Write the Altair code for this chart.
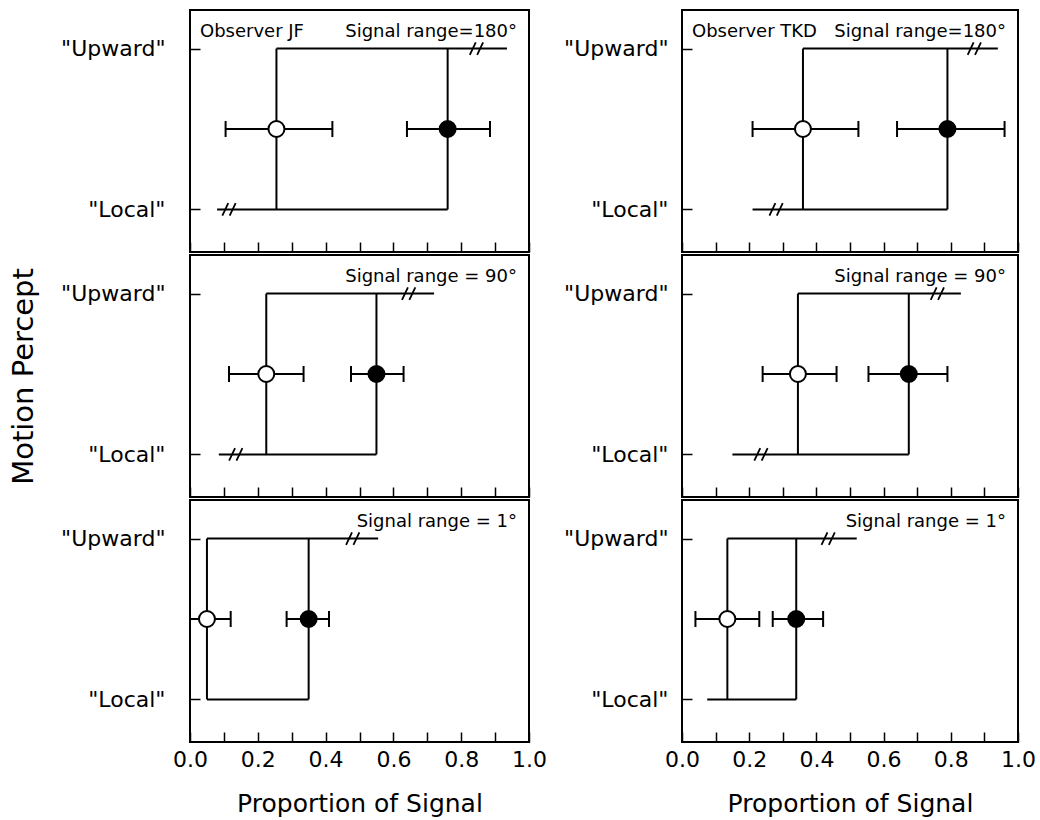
import altair as alt
import pandas as pd

FONT = "DejaVu Sans"

# ---- data (panel order: JF 180, JF 90, JF 1, TKD 180, TKD 90, TKD 1)
observer_labels = ["Observer  JF", "", "", "Observer  TKD", "", ""]
range_labels = ["Signal range=180°", "Signal range = 90°", "Signal range = 1°",
                "Signal range=180°", "Signal range = 90°", "Signal range = 1°"]
open_x = [0.255, 0.225, 0.05, 0.36, 0.345, 0.135]
open_lo = [0.105, 0.115, 0.0, 0.21, 0.24, 0.04]
open_hi = [0.42, 0.335, 0.12, 0.525, 0.46, 0.23]
filled_x = [0.76, 0.55, 0.35, 0.79, 0.675, 0.34]
filled_lo = [0.64, 0.475, 0.285, 0.64, 0.555, 0.27]
filled_hi = [0.885, 0.63, 0.41, 0.96, 0.79, 0.42]
local_start = [0.08, 0.085, 0.05, 0.21, 0.15, 0.075]
upward_end = [0.935, 0.72, 0.555, 0.94, 0.83, 0.52]
local_break = [0.115, 0.135, None, 0.28, 0.235, None]
upward_break = [0.845, 0.645, 0.48, 0.87, 0.76, 0.435]

y_levels = [0, 1]
y_tick_labels = ['"Local"', '"Upward"']
x_ticks = [0.0, 0.1, 0.2, 0.3, 0.4, 0.5, 0.6, 0.7, 0.8, 0.9, 1.0]
x_title = "Proportion of Signal"
y_title = "Motion Percept"

PANEL_H = 242
LEFT_W = 339
RIGHT_W = 336

label_expr = "datum.value == %d ? '%s' : '%s'" % (y_levels[1], y_tick_labels[1], y_tick_labels[0])
x_label_expr = "(round(datum.value * 10) % 2 == 0) ? format(datum.value, '.1f') : ''"
CIRCLE_Y = 0.5 * (y_levels[0] + y_levels[1])


def panel(i, width, label_pad, title_mode, show_xlabels):
    xaxis_kw = dict(values=x_ticks, tickSize=10, offset=-10, domain=False, grid=False,
                    tickColor="black", tickWidth=1.5, labels=show_xlabels,
                    labelExpr=x_label_expr, labelFlush=False, labelOverlap=False,
                    labelPadding=7, labelFontSize=22, labelFont=FONT, labelColor="black",
                    titleFontSize=25, titleFont=FONT, titleFontWeight="normal",
                    titleColor="black", titlePadding=21)
    xenc = alt.X("x:Q", scale=alt.Scale(domain=[0, 1], nice=False, zero=False),
                 axis=alt.Axis(**xaxis_kw),
                 title=(x_title if show_xlabels else None))
    yaxis_kw = dict(values=y_levels, tickSize=10, offset=-10, domain=False, grid=False,
                    tickColor="black", tickWidth=1.5, labelExpr=label_expr,
                    labelPadding=label_pad, labelFontSize=22, labelFont=FONT,
                    labelColor="black", titleFontSize=29, titleFont=FONT,
                    titleFontWeight="normal", titleColor="black", titlePadding=22)
    if title_mode == "hidden":
        yaxis_kw["titleOpacity"] = 0
    yenc = alt.Y("y:Q", scale=alt.Scale(domain=[-0.265, 1.24], nice=False, zero=False),
                 axis=alt.Axis(**yaxis_kw),
                 title=(y_title if title_mode in ("shown", "hidden") else None))

    seg = pd.DataFrame({
        "x": [local_start[i], open_x[i], open_x[i], filled_x[i], open_lo[i], filled_lo[i]],
        "x2": [filled_x[i], upward_end[i], open_x[i], filled_x[i], open_hi[i], filled_hi[i]],
        "y": [y_levels[0], y_levels[1], y_levels[0], y_levels[0], CIRCLE_Y, CIRCLE_Y],
        "y2": [y_levels[0], y_levels[1], y_levels[1], y_levels[1], CIRCLE_Y, CIRCLE_Y],
    })
    caps = pd.DataFrame({
        "x": [open_lo[i], open_hi[i], filled_lo[i], filled_hi[i]],
        "y": [CIRCLE_Y] * 4,
    })
    bx, by = [], []
    if local_break[i] is not None:
        bx.append(local_break[i]); by.append(y_levels[0])
    if upward_break[i] is not None:
        bx.append(upward_break[i]); by.append(y_levels[1])
    brk = pd.DataFrame({"x": bx, "y": by})
    pts = pd.DataFrame({
        "x": [open_x[i], filled_x[i]],
        "y": [CIRCLE_Y, CIRCLE_Y],
        "kind": ["open", "filled"],
    })

    rules = alt.Chart(seg).mark_rule(color="black", strokeWidth=2).encode(
        x=xenc, x2="x2:Q", y=yenc, y2="y2:Q")
    capm = alt.Chart(caps).mark_point(shape="M0,-1L0,1", size=256, filled=False,
                                      stroke="black", strokeWidth=2, opacity=1).encode(
        x=xenc, y=yenc)
    brkm = alt.Chart(brk).mark_point(shape="M-0.95,0.9L-0.1,-0.9M0.1,0.9L0.95,-0.9",
                                     size=196, filled=False, stroke="black",
                                     strokeWidth=1.8, opacity=1).encode(x=xenc, y=yenc)
    circ = alt.Chart(pts).mark_point(shape="circle", size=256, filled=True,
                                     stroke="black", strokeWidth=2, opacity=1).encode(
        x=xenc, y=yenc,
        fill=alt.Fill("kind:N", scale=alt.Scale(domain=["open", "filled"],
                                                range=["white", "black"]), legend=None))
    layers = [rules, brkm, capm, circ]

    txt = pd.DataFrame({"label": [range_labels[i]]})
    layers.append(alt.Chart(txt).mark_text(align="right", baseline="middle", font=FONT,
                                           fontSize=18, color="black").encode(
        x=alt.value(width - 12), y=alt.value(22), text="label:N"))
    if observer_labels[i]:
        otxt = pd.DataFrame({"label": [observer_labels[i]]})
        layers.append(alt.Chart(otxt).mark_text(align="left", baseline="middle", font=FONT,
                                                fontSize=18, color="black").encode(
            x=alt.value(10), y=alt.value(22), text="label:N"))

    return alt.layer(*layers).properties(width=width, height=PANEL_H)


left = alt.vconcat(
    panel(0, LEFT_W, 25, "hidden", False),
    panel(1, LEFT_W, 25, "shown", False),
    panel(2, LEFT_W, 25, "hidden", True),
    spacing=0,
)
right = alt.vconcat(
    panel(3, RIGHT_W, 14, "none", False),
    panel(4, RIGHT_W, 14, "none", False),
    panel(5, RIGHT_W, 14, "none", True),
    spacing=0,
)

chart = alt.hconcat(left, right, spacing=14).properties(
    padding={"left": 8, "top": 9, "right": 0, "bottom": 0},
    background="white",
).configure_view(stroke="black", strokeWidth=2)

chart.save("out.html", embed_options={"renderer": "svg", "actions": False})
